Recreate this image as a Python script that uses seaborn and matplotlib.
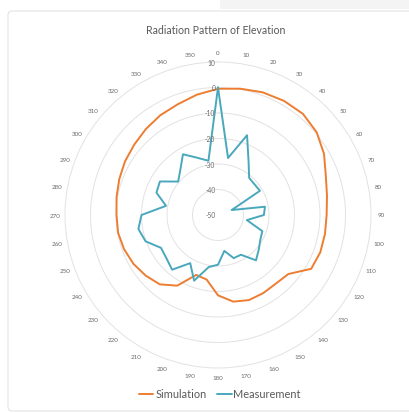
import numpy as np
import pandas as pd
import matplotlib
matplotlib.use("Agg")
import matplotlib.pyplot as plt
import matplotlib.patches as mpatches
import seaborn as sns

# Data (dB, one value per 10 degrees)
angles_deg = list(range(0, 360, 10))
simulation = [-0.5, 0.3, 1.2, 1.7, 1.8, 0.5, -2.0, -5.0, -6.6, -7.4,
              -7.4, -7.3, -7.8, -14.0, -14.8, -14.6, -14.5, -15.5, -18.5, -24.3,
              -25.0, -18.0, -14.5, -13.0, -11.7, -10.8, -10.2, -10.2, -9.6, -8.8,
              -7.9, -7.1, -6.0, -4.8, -3.8, -2.1]
measurement = [0.0, -27.3, -16.7, -26.0, -31.0, -31.3, -31.0, -44.3, -31.3, -32.0,
               -38.5, -31.5, -30.8, -29.1, -26.8, -32.0, -32.0, -35.7, -30.5, -29.3,
               -22.6, -28.2, -22.0, -23.6, -24.2, -19.8, -18.3, -20.0, -29.3, -24.3,
               -23.7, -29.6, -27.0, -22.5, -26.1, -28.4]
radial_ticks = [-50, -40, -30, -20, -10, 0, 10]

SIM_COLOR = "#ED7D31"
MEAS_COLOR = "#4AA8BC"
GRID_COLOR = "#E2E2E2"
TEXT_COLOR = "#6A6A6A"

sns.set_style("white")
plt.rcParams['font.family'] = ['Lato', 'DejaVu Sans']

W, H = 410, 414
fig = plt.figure(figsize=(W / 100, H / 100), dpi=100)

# card background like the Excel chart frame
fig.patches.append(mpatches.FancyBboxPatch(
    (8 / W, 2 / H), 420 / W, 400 / H, boxstyle="round,pad=0,rounding_size=0.01",
    transform=fig.transFigure, facecolor="white", edgecolor="#E3E3E3", lw=0.8,
    zorder=-5))
fig.patches.append(mpatches.Rectangle(
    (220 / W, 404 / H), 200 / W, 12 / H, transform=fig.transFigure,
    facecolor="#F4F4F4", edgecolor="none", zorder=-5))

cx, cy, R = 218, 216, 153
ax = fig.add_axes([(cx - R) / W, (H - cy - R) / H, 2 * R / W, 2 * R / H],
                  projection="polar")
ax.set_facecolor("none")
ax.set_theta_zero_location("N")
ax.set_theta_direction(-1)
ax.set_ylim(-50, 10)
ax.set_yticks(radial_ticks)
ax.set_yticklabels([])
ax.set_xticks([])
ax.grid(False)
ax.spines["polar"].set_color(GRID_COLOR)
ax.spines["polar"].set_linewidth(0.7)

# circular gridlines
circ = np.linspace(0, 2 * np.pi, 361)
for v in radial_ticks[1:-1]:
    ax.plot(circ, np.full_like(circ, v), color=GRID_COLOR, lw=0.7, zorder=1)

# closed series
theta = np.deg2rad(angles_deg + [360])
df = pd.DataFrame({
    "theta": np.concatenate([theta, theta]),
    "value": simulation + simulation[:1] + measurement + measurement[:1],
    "series": ["Simulation"] * len(theta) + ["Measurement"] * len(theta),
})
sns.lineplot(data=df, x="theta", y="value", hue="series", sort=False,
             palette={"Simulation": SIM_COLOR, "Measurement": MEAS_COLOR},
             lw=1.4, ax=ax, legend=False, zorder=3)
ax.set_xlabel("")
ax.set_ylabel("")

# angle labels
for a in angles_deg:
    ax.text(np.deg2rad(a), 13.9, str(a), ha="center", va="center",
            fontsize=4.5, color=TEXT_COLOR)

# radial labels along the vertical axis
for v in radial_ticks:
    ax.annotate(str(v), xy=(0, v), xytext=(-2, 0), textcoords="offset points",
                ha="right", va="center", fontsize=4.8, color=TEXT_COLOR)

fig.text(216 / W, 1 - 31 / H, "Radiation Pattern of Elevation",
         ha="center", va="center", fontsize=7.6, color="#595959")

handles = [plt.Line2D([], [], color=SIM_COLOR, lw=1.4),
           plt.Line2D([], [], color=MEAS_COLOR, lw=1.4)]
fig.legend(handles, ["Simulation", "Measurement"], loc="center",
           bbox_to_anchor=(220 / W, 1 - 395 / H), ncol=2, frameon=False,
           fontsize=7.9, handlelength=1.3, handletextpad=0.15, columnspacing=1.0,
           labelcolor="#595959")

fig.savefig("out.png", dpi=100)
